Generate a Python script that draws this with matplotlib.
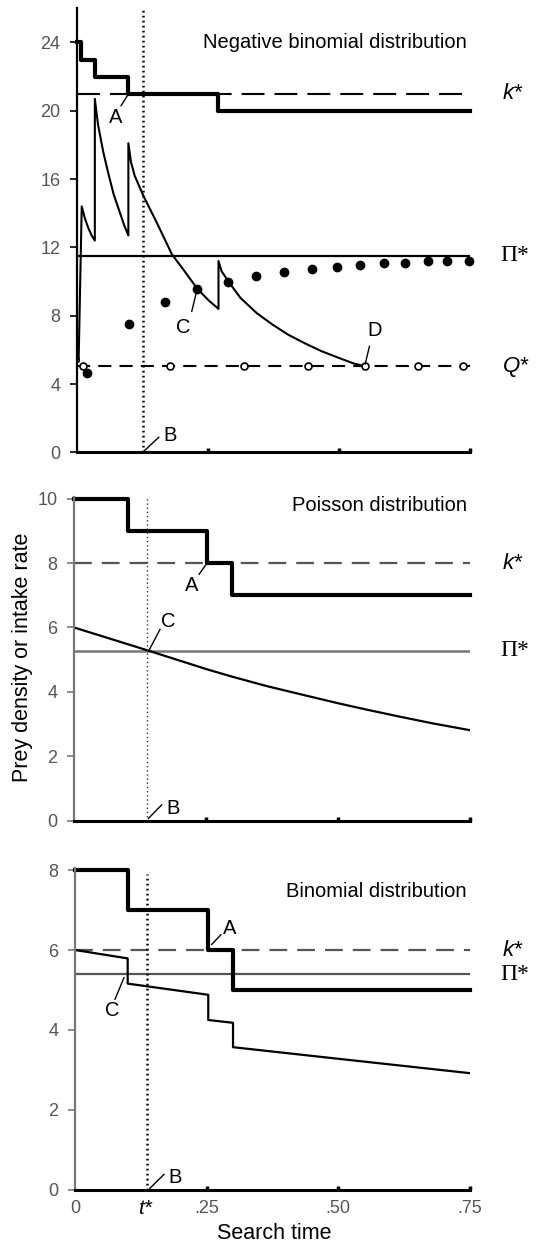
import numpy as np
import matplotlib
matplotlib.use('Agg')
import matplotlib.pyplot as plt
import matplotlib.transforms as mtransforms

plt.rcParams['font.family'] = ['Liberation Sans', 'DejaVu Sans']

# ---- data ----
# negative binomial panel
nb_step_t = [0, 0.008, 0.034, 0.098, 0.27, 0.75]
nb_step_k = [24, 23, 22, 21, 20, 20]
nb_rate_t = [0, 0.003, 0.003, 0.009, 0.015, 0.022, 0.028, 0.034,
             0.034, 0.04, 0.05, 0.06, 0.07, 0.08, 0.09, 0.098,
             0.098, 0.103, 0.11, 0.127, 0.153, 0.181, 0.203, 0.229, 0.251, 0.27,
             0.27, 0.276, 0.289, 0.312, 0.343, 0.374, 0.404, 0.435, 0.466, 0.497, 0.528, 0.549]
nb_rate_y = [6.0, 5.3, 5.3, 14.4, 13.7, 13.1, 12.7, 12.4,
             20.7, 19.2, 17.6, 16.3, 15.1, 14.2, 13.3, 12.7,
             18.1, 17.0, 16.2, 15.0, 13.4, 11.6, 10.7, 9.6, 8.9, 8.4,
             11.2, 10.6, 10.0, 9.04, 8.15, 7.46, 6.87, 6.38, 5.93, 5.56, 5.2, 5.05]
nb_dot_t = [0.020, 0.0998, 0.168, 0.229, 0.289, 0.342, 0.395, 0.448, 0.497,
            0.540, 0.586, 0.626, 0.670, 0.707, 0.748]
nb_dot_y = [4.66, 7.49, 8.78, 9.55, 10.0, 10.32, 10.58, 10.71, 10.83,
            10.97, 11.06, 11.10, 11.2, 11.2, 11.22]
nb_open_t = [0.0114, 0.177, 0.318, 0.440, 0.550, 0.650, 0.737]
nb_kstar, nb_pistar, nb_qstar, nb_tstar = 21, 11.5, 5.05, 0.126

# poisson panel
po_step_t = [0, 0.102, 0.252, 0.30, 0.75]
po_step_k = [10, 9, 8, 7, 7]
po_rate_t = [0, 0.139, 0.252, 0.30, 0.365, 0.428, 0.502, 0.554, 0.617, 0.68, 0.75]
po_rate_y = [6.0, 5.29, 4.70, 4.47, 4.18, 3.93, 3.64, 3.45, 3.23, 3.02, 2.81]
po_kstar, po_pistar, po_tstar = 8, 5.27, 0.139

# binomial panel
bi_step_t = [0, 0.1, 0.253, 0.30, 0.75]
bi_step_k = [8, 7, 6, 5, 5]
bi_rate_t = [0, 0.1, 0.1, 0.253, 0.253, 0.30, 0.30, 0.5, 0.75]
bi_rate_y = [6.0, 5.79, 5.16, 4.88, 4.25, 4.18, 3.57, 3.28, 2.92]
bi_kstar, bi_pistar, bi_tstar = 6, 5.39, 0.137

tick_grey = '#555555'

fig = plt.figure(figsize=(5.42, 12.45), dpi=100)
ax1 = fig.add_axes([0.1421, 0.6367, 0.7251, 0.3566])
ax2 = fig.add_axes([0.1365, 0.3408, 0.7306, 0.2600])
ax3 = fig.add_axes([0.1384, 0.0442, 0.7288, 0.2586])


def style_axes(ax, ymax, yticks, spine_col):
    ax.set_xlim(0, 0.75)
    ax.set_ylim(0, ymax)
    for s in ['top', 'right']:
        ax.spines[s].set_visible(False)
    ax.spines['left'].set_color(spine_col)
    ax.spines['left'].set_linewidth(1.6)
    ax.spines['bottom'].set_linewidth(2.2)
    ax.set_yticks(yticks)
    ax.set_yticklabels([str(v) for v in yticks])
    ax.tick_params(axis='y', direction='out', length=5, width=1.2,
                   colors=spine_col, labelcolor=tick_grey, labelsize=13, pad=7)
    ax.set_xticks([0.25, 0.5, 0.75])
    ax.tick_params(axis='x', direction='in', length=3, width=2.5, labelbottom=False)


def right_label(ax, y, txt, italic=True):
    if italic:
        ax.text(0.812, y, txt, fontsize=16, style='italic', va='center', ha='left', clip_on=False)
    else:
        ax.text(0.808, y, '\u03a0*', fontsize=17, va='center', ha='left', clip_on=False,
                family='Liberation Serif')


def note(ax, txt, xy, xytext, textpos):
    ax.plot([xy[0], xytext[0]], [xy[1], xytext[1]], color='black', lw=1.0)
    ax.text(textpos[0], textpos[1], txt, fontsize=14.5, ha='center', va='center')


# ---- negative binomial ----
style_axes(ax1, 26.0, [0, 4, 8, 12, 16, 20, 24], 'black')
ax1.axhline(nb_kstar, color='black', lw=1.5, dashes=(11, 4.8))
ax1.axhline(nb_qstar, color='black', lw=1.5, dashes=(6.3, 3.9))
ax1.axhline(nb_pistar, color='black', lw=1.6)
ax1.step(nb_step_t, nb_step_k, where='post', color='black', lw=3.0, clip_on=False)
ax1.plot(nb_rate_t, nb_rate_y, color='black', lw=1.5)
ax1.plot(nb_dot_t, nb_dot_y, 'o', color='black', ms=6, clip_on=False)
ax1.plot(nb_open_t, [nb_qstar] * len(nb_open_t), 'o', mfc='white', mec='black',
         mew=1.2, ms=5, clip_on=False)
ax1.axvline(nb_tstar, color='black', lw=1.8, dashes=(0.7, 1.3))
ax1.text(0.744, 24.0, 'Negative binomial distribution', fontsize=14.5, ha='right', va='center')
right_label(ax1, nb_kstar, 'k*')
right_label(ax1, nb_pistar, None, italic=False)
right_label(ax1, nb_qstar, 'Q*')
note(ax1, 'A', (0.0985, 21.0), (0.084, 20.3), (0.073, 19.6))
note(ax1, 'B', (0.127, 0.05), (0.156, 0.88), (0.178, 1.0))
note(ax1, 'C', (0.2275, 9.33), (0.219, 8.26), (0.202, 7.28))
note(ax1, 'D', (0.55, 5.17), (0.558, 6.2), (0.567, 7.12))

# ---- poisson ----
style_axes(ax2, 10.05, [0, 2, 4, 6, 8, 10], '#777777')
ax2.axhline(po_kstar, color='#555555', lw=1.6, dashes=(8, 4.5))
ax2.axhline(po_pistar, color='#777777', lw=1.8)
ax2.step(po_step_t, po_step_k, where='post', color='black', lw=3.0, clip_on=False)
ax2.plot(po_rate_t, po_rate_y, color='black', lw=1.6)
ax2.axvline(po_tstar, color='#333333', lw=1.0, dashes=(1, 2))
ax2.text(0.744, 9.79, 'Poisson distribution', fontsize=14.5, ha='right', va='center')
right_label(ax2, po_kstar, 'k*')
right_label(ax2, po_pistar, None, italic=False)
note(ax2, 'A', (0.25, 7.95), (0.237, 7.65), (0.223, 7.31))
note(ax2, 'B', (0.141, 0.07), (0.166, 0.49), (0.187, 0.38))
note(ax2, 'C', (0.143, 5.32), (0.163, 5.94), (0.179, 6.17))

# ---- binomial ----
style_axes(ax3, 8.05, [0, 2, 4, 6, 8], '#777777')
ax3.axhline(bi_kstar, color='#555555', lw=1.6, dashes=(8, 4.5))
ax3.axhline(bi_pistar, color='#555555', lw=1.6)
ax3.step(bi_step_t, bi_step_k, where='post', color='black', lw=3.0, clip_on=False)
ax3.plot(bi_rate_t, bi_rate_y, color='black', lw=1.6)
ax3.axvline(bi_tstar, ymax=7.9 / 8.05, color='black', lw=1.8, dashes=(0.7, 1.3))
ax3.text(0.744, 7.46, 'Binomial distribution', fontsize=14.5, ha='right', va='center')
right_label(ax3, bi_kstar, 'k*')
right_label(ax3, bi_pistar, None, italic=False)
note(ax3, 'A', (0.2595, 6.14), (0.277, 6.38), (0.293, 6.53))
note(ax3, 'B', (0.142, 0.04), (0.169, 0.39), (0.19, 0.32))
note(ax3, 'C', (0.093, 5.31), (0.076, 4.77), (0.0715, 4.49))

# x tick labels on the bottom panel
trans = mtransforms.blended_transform_factory(ax3.transData, ax3.transAxes)
for xv, lab in zip([0, 0.25, 0.5, 0.75], ['0', '.25', '.50', '.75']):
    ax3.text(xv, -0.058, lab, transform=trans, ha='center', va='center',
             fontsize=13, color=tick_grey)
ax3.text(0.133, -0.058, 't*', transform=trans, ha='center', va='center',
         fontsize=15, style='italic')

fig.text(274 / 542, 0.0095, 'Search time', fontsize=15.5, ha='center', va='center')
fig.text(0.042, 1 - 657 / 1245, 'Prey density or intake rate', fontsize=15.5,
         rotation=90, ha='center', va='center')

fig.savefig('out.png', dpi=100)
